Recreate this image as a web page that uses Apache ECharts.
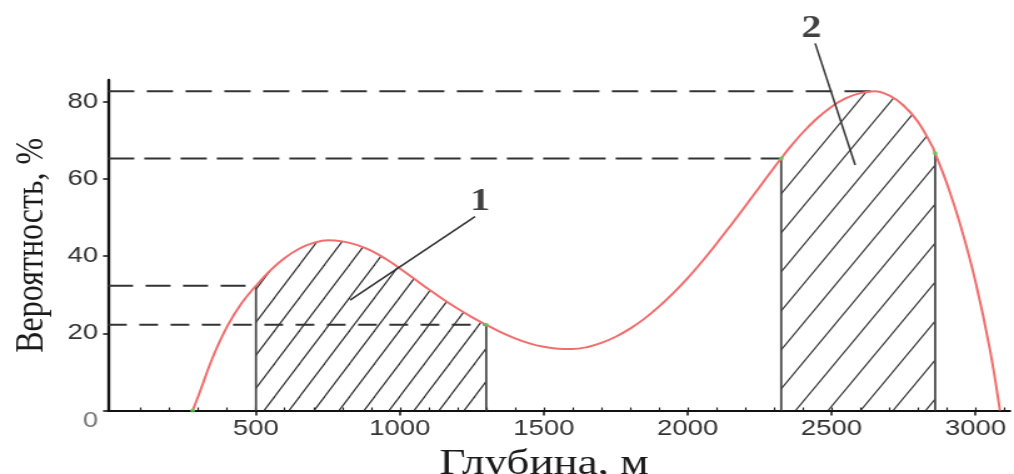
<!DOCTYPE html>
<html><head><meta charset="utf-8">
<script src="https://cdn.jsdelivr.net/npm/echarts@6/dist/echarts.min.js"></script>
<style>
html,body{margin:0;padding:0;overflow:hidden;background:#fff}
#c{width:811px;height:474px;transform:scaleX(1.25031);transform-origin:0 0;}
</style>
</head><body><div id="c"></div>
<script>
// ---- data ----
const depth = [280, 300, 350, 400, 450, 500, 550, 600, 650, 700, 750, 800, 850, 900, 950, 1000, 1050, 1100, 1150, 1200, 1250, 1300, 1350, 1400, 1450, 1500, 1550, 1600, 1650, 1700, 1750, 1800, 1850, 1900, 1950, 2000, 2050, 2100, 2150, 2200, 2250, 2300, 2325, 2350, 2400, 2450, 2500, 2550, 2600, 2650, 2700, 2750, 2800, 2850, 2860, 2900, 2950, 3000, 3050, 3085];
const prob  = [0, 3.8, 13.8, 21.8, 27.8, 32.3, 36.3, 39.5, 41.9, 43.4, 44.1, 43.8, 42.9, 41.4, 39.3, 36.8, 34.1, 31.4, 28.8, 26.4, 24.2, 22.2, 20.3, 18.7, 17.4, 16.5, 16.0, 15.9, 16.4, 17.5, 19.1, 21.2, 23.8, 26.9, 30.4, 34.3, 38.6, 43.2, 48.0, 52.9, 57.9, 62.9, 65.3, 67.7, 72.0, 75.7, 78.7, 80.9, 82.2, 82.7, 81.6, 79.0, 74.8, 68.4, 66.6, 58.9, 47.4, 33.4, 15.9, 0];
const xTickLabels = [500, 1000, 1500, 2000, 2500, 3000];
const xMinorTicks = [100, 200, 300, 400, 500, 600, 700, 800, 900, 1000, 1100, 1200, 1300, 1400, 1500, 1600, 1700, 1800, 1900, 2000, 2100, 2200, 2300, 2400, 2500, 2600, 2700, 2800, 2900, 3000, 3100];
const yTickLabels = [0, 20, 40, 60, 80];
const zone1 = [500, 1300];
const zone2 = [2325, 2860];
const peakDepth = 2650;
const markTexts = ['1', '2'];
const markPos = [[1279, 54.1], [2430, 98.8]];
const leader1 = [[1261, 50.2], [827, 28.6]];
const leader2 = [[2443, 95.1], [2582, 63.6]];
const greenDots = [280, 1300, 2325, 2860];
const xMin = -14, xMax = 3120, yMin = 0, yMax = 85.6;

// ---- helpers ----
const valAt = d => prob[depth.indexOf(d)];
const pts = (a, b) => depth.map((d, i) => [d, prob[i]]).filter(p => p[0] >= a && p[0] <= b);
function hatch(w, h) {
  const c = document.createElement('canvas'); c.width = w; c.height = h;
  const g = c.getContext('2d'); g.strokeStyle = '#2e2e2e'; g.lineWidth = 1.2;
  for (const s of [-w, 0, w]) { g.beginPath(); g.moveTo(s - w, 2 * h); g.lineTo(s + 2 * w, -h); g.stroke(); }
  return c;
}
const serif = '"Liberation Serif", "DejaVu Serif", serif';
const sans = '"Liberation Sans", Arial, sans-serif';

function hline(v, endX, dash) {
  return { type: 'line', data: [[xMin, v], [endX, v]], symbol: 'none', silent: true, z: 3,
    lineStyle: { color: '#333', width: 2, type: dash } };
}
function vline(d) {
  return { type: 'line', data: [[d, 0], [d, valAt(d)]], symbol: 'none', silent: true, z: 3,
    lineStyle: { color: '#4a4a4a', width: 1.8 } };
}
function hatchArea(z, pat) {
  return { type: 'line', data: pts(z[0], z[1]), smooth: 0.4, symbol: 'none', silent: true, z: 1,
    lineStyle: { width: 0 }, areaStyle: { color: { image: pat, repeat: 'repeat' }, opacity: 1 } };
}

const chart = echarts.init(document.getElementById('c'), null, { renderer: 'canvas' });
chart.setOption({
  animation: false,
  backgroundColor: '#fff',
  grid: { left: 86.4, right: 3.2, top: 80, bottom: 63.5, containLabel: false, outerBoundsMode: 'none' },
  xAxis: [{
    type: 'value', min: xMin, max: xMax, position: 'bottom',
    name: 'Глубина, м', nameLocation: 'middle', nameGap: 36, nameMoveOverlap: false,
    nameTextStyle: { fontFamily: serif, fontSize: 36, color: '#1a1a1a', padding: [0, 24, 0, 0] },
    axisLine: { onZero: false, lineStyle: { color: '#111', width: 2 } },
    axisTick: { show: true, customValues: xTickLabels, inside: false, length: 5, lineStyle: { color: '#111', width: 1.5 } },
    axisLabel: { customValues: xTickLabels, margin: 7, fontFamily: sans, fontSize: 22, color: '#333',
      formatter: v => String(v) },
    splitLine: { show: false }
  }, {
    type: 'value', min: xMin, max: xMax, position: 'top', offset: -330.5,
    axisLine: { show: false, onZero: false },
    axisTick: { show: true, customValues: xMinorTicks, inside: false, length: 3, lineStyle: { color: '#222', width: 1.2 } },
    axisLabel: { show: false }, splitLine: { show: false }
  }],
  yAxis: {
    type: 'value', min: yMin, max: yMax,
    name: 'Вероятность, %', nameLocation: 'middle', nameRotate: 90, nameGap: 45, nameMoveOverlap: false,
    nameTextStyle: { fontFamily: serif, fontSize: 32, color: '#1a1a1a' },
    axisLine: { onZero: false, lineStyle: { color: '#111', width: 2.4 } },
    axisTick: { show: true, customValues: yTickLabels, inside: false, length: 4, lineStyle: { color: '#111', width: 1.5 } },
    axisLabel: { customValues: yTickLabels, margin: 8, fontFamily: sans, fontSize: 22, color: '#333',
      formatter: v => v === 0 ? '{z|0}' : String(v),
      rich: { z: { padding: [20, 0, 0, 0], fontFamily: sans, fontSize: 22, color: '#777' } } },
    splitLine: { show: false }
  },
  series: [
    hatchArea(zone1, hatch(20, 33)),
    hatchArea(zone2, hatch(26, 39)),
    hline(valAt(peakDepth), peakDepth, [21, 10]),
    hline(valAt(zone2[0]), zone2[0], [21, 8]),
    hline(valAt(zone1[0]), zone1[0], [20, 10]),
    hline(valAt(zone1[1]), zone1[1], [15, 10]),
    vline(zone1[0]), vline(zone1[1]), vline(zone2[0]), vline(zone2[1]),
    { type: 'line', data: depth.map((d, i) => [d, prob[i]]), smooth: 0.4, symbol: 'none', silent: true, z: 5,
      lineStyle: { color: '#f26d6d', width: 2 } },
    { type: 'line', data: leader1, symbol: 'none', silent: true, z: 6, clip: false, lineStyle: { color: '#333', width: 1.5 } },
    { type: 'line', data: leader2, symbol: 'none', silent: true, z: 6, clip: false, lineStyle: { color: '#333', width: 1.5 } },
    { type: 'scatter', data: greenDots.map(d => [d, valAt(d)]), symbolSize: 4, silent: true, z: 7,
      itemStyle: { color: '#55d055' } },
    { type: 'scatter', clip: false, silent: true, z: 8, symbolSize: 1, itemStyle: { color: 'rgba(0,0,0,0)' },
      data: markPos.map((p, i) => ({ value: p, label: { show: true, formatter: markTexts[i] } })),
      label: { position: 'inside', fontFamily: serif, fontWeight: 'bold', fontSize: 32, color: '#111' } }
  ]
});
</script>
</body></html>
